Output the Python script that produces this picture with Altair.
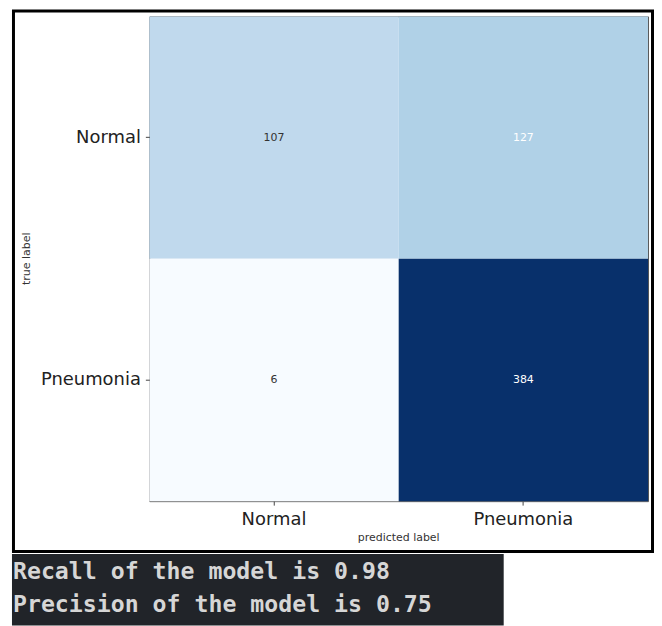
import altair as alt
import pandas as pd
import numpy as np

# ---- data ----
classes = ["Normal", "Pneumonia"]
true_labels = ["Normal", "Normal", "Pneumonia", "Pneumonia"]
pred_labels = ["Normal", "Pneumonia", "Normal", "Pneumonia"]
counts = [107, 127, 6, 384]
report_lines = ["Recall of the model is 0.98", "Precision of the model is 0.75"]

# matplotlib "Blues" colormap stops
blues = ["#f7fbff", "#deebf7", "#c6dbef", "#9ecae1", "#6baed6",
         "#4292c6", "#2171b5", "#08519c", "#08306b"]

df = pd.DataFrame({"true": true_labels, "pred": pred_labels, "count": counts})
stops = [float(v) for v in np.linspace(min(counts), max(counts), len(blues))]

W, H = 501, 487
FONT = "DejaVu Sans"

xenc = alt.X(
    "pred:N", sort=classes,
    scale=alt.Scale(paddingInner=0, paddingOuter=0),
    axis=alt.Axis(
        title="predicted label", labelFontSize=18, labelFont=FONT, labelColor="#222222",
        labelAngle=0, tickSize=4, tickColor="#444444", domain=False, labelPadding=5,
        titleFontSize=11, titleFont=FONT, titleFontWeight="normal", titleColor="#333333",
        titleX=250, titleY=37, titleBaseline="middle", titleAlign="center",
    ),
)
yenc = alt.Y(
    "true:N", sort=classes,
    scale=alt.Scale(paddingInner=0, paddingOuter=0),
    axis=alt.Axis(
        title="true label", labelFontSize=18, labelFont=FONT, labelColor="#222222",
        tickSize=4, tickColor="#444444", domain=False, labelPadding=5,
        titleFontSize=11, titleFont=FONT, titleFontWeight="normal", titleColor="#333333",
        titleX=-123, titleY=243, titleAngle=270, titleBaseline="middle", titleAlign="center",
    ),
)

base = alt.Chart(df)
cells = base.mark_rect().encode(
    x=xenc, y=yenc,
    color=alt.Color("count:Q",
                    scale=alt.Scale(domain=stops, range=blues, interpolate="rgb"),
                    legend=None),
)
labels = base.mark_text(fontSize=11, font=FONT).encode(
    x=alt.X("pred:N", sort=classes), y=alt.Y("true:N", sort=classes),
    text="count:Q",
    color=alt.condition(alt.datum["count"] > 120, alt.value("white"), alt.value("#333333")),
)

one = pd.DataFrame({"report": ["\n".join(report_lines)]})
frame = alt.Chart(one).mark_rect(filled=False, stroke="black", strokeWidth=3).encode(
    x=alt.value(-136.5), x2=alt.value(505.5), y=alt.value(-5.5), y2=alt.value(537.5)
)
band = alt.Chart(one).mark_rect(fill="#212429").encode(
    x=alt.value(-138), x2=alt.value(356), y=alt.value(540), y2=alt.value(612)
)
report = alt.Chart(one).mark_text(
    align="left", baseline="alphabetic", font="DejaVu Sans Mono", fontSize=23.3,
    fontWeight="bold", color="#d6d6d6", lineBreak="\n", lineHeight=33,
).encode(x=alt.value(-137), y=alt.value(565), text="report:N")

chart = alt.layer(frame, band, report, cells, labels).properties(
    width=W, height=H,
    autosize=alt.AutoSizeParams(type="none"),
    padding={"left": 142, "top": 7, "right": 6, "bottom": 124},
    background="white",
).configure_view(stroke="#555555", strokeWidth=1)

chart.save("out.html", embed_options={"renderer": "svg", "actions": False})
